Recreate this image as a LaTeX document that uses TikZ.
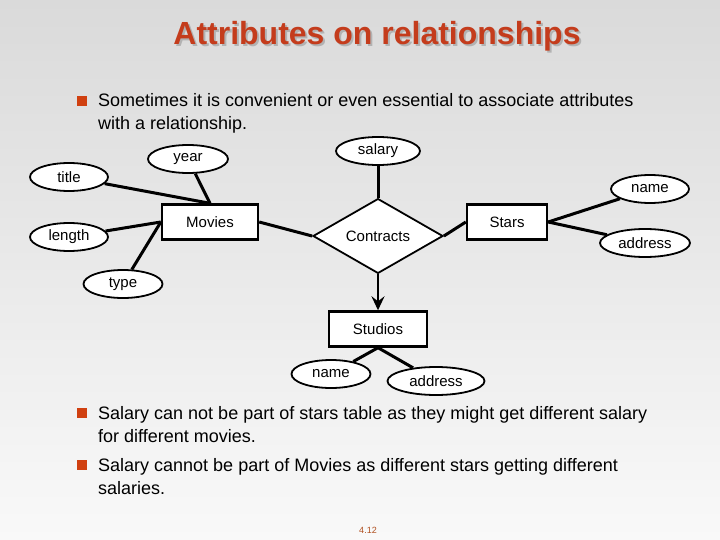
\documentclass[tikz,border=0pt]{standalone}
\usepackage{fontspec}
\setmainfont{Liberation Sans}
\usetikzlibrary{shapes.geometric, arrows.meta}

\definecolor{headred}{RGB}{196,60,28}
\definecolor{bulletred}{RGB}{208,64,16}
\definecolor{pagebrown}{RGB}{176,80,32}

\tikzset{
  attr/.style = {ellipse, draw, line width=1.8pt, fill=white, minimum width=78pt,
    minimum height=28pt, inner sep=0pt, font=\fontsize{15}{15}\selectfont},
  entity/.style = {rectangle, draw, line width=2.4pt, fill=white, minimum width=96pt,
    minimum height=35pt, inner sep=0pt, font=\fontsize{15}{15}\selectfont},
  relation/.style = {diamond, draw, line width=1.8pt, fill=white, minimum width=130pt,
    minimum height=59pt, inner sep=0pt, font=\fontsize{15}{15}\selectfont},
  link/.style = {line width=3pt},
  bulletbox/.style = {fill=bulletred, minimum size=10pt, inner sep=0pt},
  bodytext/.style = {anchor=base west, align=left, inner sep=0pt,
    font=\fontsize{18}{23}\selectfont}
}

\begin{document}
\begin{tikzpicture} [x=1pt, y=-1pt]

\shade [top color={rgb,255:red,218;green,218;blue,218}, bottom color={rgb,255:red,249;green,249;blue,249}]
  (0,0) rectangle (720,540);
\useasboundingbox (0,0) rectangle (720,540);

% heading
\node (headshadow) [font=\bfseries\fontsize{32}{32}\selectfont, text=gray!60] at (379,38) {Attributes on relationships};
\node (heading) [font=\bfseries\fontsize{32}{32}\selectfont, text=headred] at (377,36) {Attributes on relationships};

% first point
\node (b1) [bulletbox] at (82,101) {};
\node (t1) [bodytext] at (98,130) {Sometimes it is convenient or even essential to associate attributes\\with a relationship.};

% Movies
\node (movies) [entity] at (210,222) {Movies};
\node (mtitle) [attr] at (69,177) {title};
\node (myear) [attr, minimum width=80pt] at (188,159) {year};
\node (mlength) [attr] at (69,237) {length};
\node (mtype) [attr, minimum width=79pt] at (123,284) {type};

% Contracts
\node (contracts) [relation] at (378,236) {Contracts};
\node (salary) [attr, minimum width=84pt] at (378,151) {salary};

% Stars
\node (stars) [entity, minimum width=80pt] at (507,222) {Stars};
\node (sname) [attr] at (650,189) {name};
\node (saddress) [attr, minimum width=90pt] at (645,243) {address};

% Studios
\node (studios) [entity, minimum width=98pt] at (378,329) {Studios};
\node (stname) [attr, minimum width=79pt] at (331,374) {name};
\node (staddress) [attr, minimum width=97pt] at (436,381) {address};

\path [link]
  (mtitle) edge (movies.north)
  (myear) edge (movies.north)
  (mlength) edge (movies.west)
  (mtype) edge (movies.west)
  (movies.east) edge (contracts.west)
  (contracts.east) edge (stars.west)
  (salary) edge (contracts.north)
  (stars.east) edge (sname)
  (stars.east) edge (saddress)
  (studios.south) edge (stname)
  (studios.south) edge (staddress);

\path [-{Stealth[length=14pt, width=13pt, inset=5pt]}, line width=2.4pt]
  (contracts.south) edge (studios.north);

% second and third points
\node (b2) [bulletbox] at (82,413) {};
\node (t2) [bodytext] at (98,442) {Salary can not be part of stars table as they might get different salary\\for different movies.};
\node (b3) [bulletbox] at (82,465) {};
\node (t3) [bodytext] at (98,494) {Salary cannot be part of Movies as different stars getting different\\salaries.};

\node (pageno) [font=\fontsize{9}{9}\selectfont, text=pagebrown] at (368,530) {4.12};

\end{tikzpicture}
\end{document}
